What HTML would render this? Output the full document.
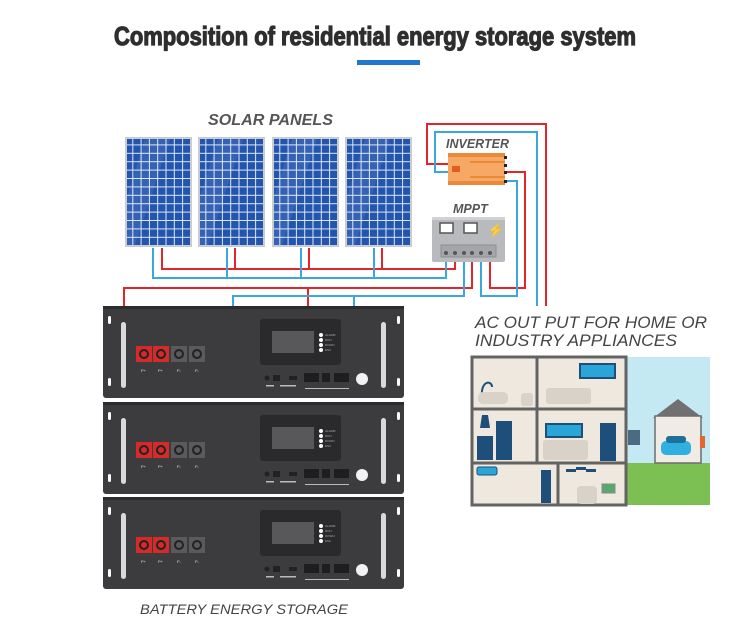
<!DOCTYPE html>
<html><head><meta charset="utf-8"><style>
html,body{margin:0;padding:0;background:#fff;}
svg{display:block;}
</style></head><body>
<svg width="750" height="633" viewBox="0 0 750 633" xmlns="http://www.w3.org/2000/svg" font-family="Liberation Sans, sans-serif">
<defs>
<pattern id="cells" x="0" y="0" width="8.3" height="8.4" patternUnits="userSpaceOnUse">
<rect width="8.3" height="8.4" fill="#2f5fb0"/>
<rect x="0" y="0" width="7.3" height="7.4" fill="#2455ad"/>
<line x1="7.8" y1="0" x2="7.8" y2="8.4" stroke="#dbe7f7" stroke-width="1"/>
<line x1="0" y1="7.9" x2="8.3" y2="7.9" stroke="#dbe7f7" stroke-width="1"/>
</pattern>
<g id="panel">
<rect x="0" y="0" width="67" height="110" fill="#c9cdd2"/>
<rect x="2" y="2" width="63" height="106" fill="url(#cells)"/>
<polygon points="20,2 45,2 10,108 2,108 2,60" fill="#ffffff" opacity="0.08"/>
</g>
<g id="batt">
<rect x="103" y="0" width="301" height="92" rx="3" fill="#3c3c3e"/>
<rect x="103" y="0" width="301" height="3" fill="#2c2c2e"/>
<rect x="108" y="10" width="3" height="8" rx="1.5" fill="#fff"/>
<rect x="108" y="72" width="3" height="8" rx="1.5" fill="#fff"/>
<rect x="397" y="10" width="3" height="8" rx="1.5" fill="#fff"/>
<rect x="397" y="72" width="3" height="8" rx="1.5" fill="#fff"/>
<rect x="121" y="16" width="5" height="66" rx="2.5" fill="#d9d9d9"/>
<rect x="381" y="16" width="5" height="66" rx="2.5" fill="#d9d9d9"/>
<rect x="136" y="40" width="16" height="16" fill="#d42a2a"/>
<rect x="153" y="40" width="16" height="16" fill="#d42a2a"/>
<rect x="171" y="40" width="16" height="16" fill="#5a5a5c"/>
<rect x="189" y="40" width="16" height="16" fill="#5a5a5c"/>
<circle cx="144" cy="48" r="4" fill="none" stroke="#222" stroke-width="2"/>
<circle cx="161" cy="48" r="4" fill="none" stroke="#222" stroke-width="2"/>
<circle cx="179" cy="48" r="4" fill="none" stroke="#222" stroke-width="2"/>
<circle cx="197" cy="48" r="4" fill="none" stroke="#222" stroke-width="2"/>
<g fill="#ddd" font-size="4"><text x="141" y="66">P+</text><text x="158" y="66">P+</text><text x="177" y="66">P-</text><text x="195" y="66">P-</text></g>
<rect x="260" y="13" width="81" height="46" rx="3" fill="#2a2a2c"/>
<rect x="272" y="25" width="42" height="22" fill="#58585a"/>
<g fill="#fff"><circle cx="321" cy="29" r="2"/><circle cx="321" cy="34" r="2"/><circle cx="321" cy="39" r="2"/><circle cx="321" cy="44" r="2"/></g>
<g fill="#aaa" font-size="3"><text x="325" y="30">ALARM</text><text x="325" y="35">RUN</text><text x="325" y="40">DOWN</text><text x="325" y="45">ESC</text></g>
<circle cx="267" cy="72" r="2.5" fill="#222"/>
<rect x="273" y="69" width="7" height="6" fill="#222"/>
<rect x="289" y="70" width="8" height="4" fill="#222"/>
<rect x="304" y="67" width="15" height="9" fill="#1e1e20"/>
<rect x="322" y="67" width="8" height="9" fill="#1e1e20"/>
<rect x="334" y="67" width="15" height="9" fill="#1e1e20"/>
<circle cx="362" cy="73" r="6" fill="#f2f2f2"/>
<g fill="#bbb"><rect x="266" y="79" width="8" height="1.5"/><rect x="280" y="79" width="16" height="1.5"/><rect x="305" y="82" width="44" height="1"/></g>
</g>
</defs>

<text x="375" y="45" text-anchor="middle" font-size="26" font-weight="bold" fill="#2e2e2e" stroke="#2e2e2e" stroke-width="1.2" textLength="522" lengthAdjust="spacingAndGlyphs">Composition of residential energy storage system</text>
<rect x="357" y="60" width="63" height="5" fill="#2177c9"/>

<text x="208" y="125" font-size="15.5" font-weight="bold" font-style="italic" fill="#555" textLength="125" lengthAdjust="spacingAndGlyphs">SOLAR PANELS</text>
<use href="#panel" x="125" y="137"/>
<use href="#panel" x="198" y="137"/>
<use href="#panel" x="272" y="137"/>
<use href="#panel" x="345" y="137"/>

<g fill="none" stroke-width="2">
<path d="M448,164 H427 V124 H546 V306" stroke="#e0262b"/>
<path d="M448,172 H435 V132 H537 V306" stroke="#3aa8dc"/>
<path d="M505,172 H525 V288 H490 V253" stroke="#e0262b"/>
<path d="M505,181 H517 V296 H481 V253" stroke="#3aa8dc"/>
<path d="M162,248 V269 H455 V253 M235,248 V269 M309,248 V269 M382,248 V269" stroke="#e0262b"/>
<path d="M153,248 V278 H446 V253 M227,248 V278 M301,248 V278 M374,248 V278" stroke="#3aa8dc"/>
<path d="M124,306 V288 H472 V253 M308,288 V306" stroke="#e0262b"/>
<path d="M233,306 V296 H464 V253 M354,296 V306" stroke="#3aa8dc"/>
</g>

<text x="446" y="148" font-size="12.5" font-weight="bold" font-style="italic" fill="#555">INVERTER</text>
<rect x="448" y="153" width="57" height="32" fill="#f6a864"/>
<rect x="448" y="153" width="57" height="4" fill="#e98a3a"/>
<rect x="470" y="161" width="35" height="2" fill="#e98a3a"/>
<rect x="470" y="176" width="35" height="2" fill="#e98a3a"/>
<rect x="448" y="181" width="57" height="4" fill="#e98a3a"/>
<rect x="452" y="166" width="8" height="6" fill="#e25d1f"/>
<g fill="#222"><rect x="504" y="156" width="3" height="3"/><rect x="504" y="164" width="3" height="3"/><rect x="504" y="171" width="3" height="3"/><rect x="504" y="180" width="3" height="3"/></g>

<text x="453" y="213" font-size="12.5" font-weight="bold" font-style="italic" fill="#555">MPPT</text>
<rect x="432" y="217" width="73" height="45" rx="2" fill="#b8babd"/>
<rect x="432" y="217" width="73" height="3" fill="#d0d2d4"/>
<rect x="440" y="223" width="13" height="10" fill="#fff" stroke="#555" stroke-width="1.5"/>
<rect x="464" y="223" width="13" height="10" fill="#fff" stroke="#555" stroke-width="1.5"/>
<text x="487" y="235" font-size="14" fill="#f5c400">⚡</text>
<rect x="441" y="245" width="55" height="12" fill="#a4a6a9" stroke="#8d8f92"/>
<g fill="#555"><circle cx="446" cy="253" r="2"/><circle cx="455" cy="253" r="2"/><circle cx="464" cy="253" r="2"/><circle cx="472" cy="253" r="2"/><circle cx="481" cy="253" r="2"/><circle cx="490" cy="253" r="2"/></g>

<use href="#batt" x="0" y="306"/>
<use href="#batt" x="0" y="402"/>
<use href="#batt" x="0" y="497"/>

<text x="140" y="614" font-size="13.5" font-style="italic" fill="#444" textLength="208" lengthAdjust="spacingAndGlyphs">BATTERY ENERGY STORAGE</text>

<text x="475" y="328" font-size="17" font-style="italic" fill="#444" textLength="232" lengthAdjust="spacingAndGlyphs">AC OUT PUT FOR HOME OR</text>
<text x="475" y="346" font-size="17" font-style="italic" fill="#444" textLength="202" lengthAdjust="spacingAndGlyphs">INDUSTRY APPLIANCES</text>

<!-- house scene -->
<rect x="626" y="357" width="84" height="106" fill="#c4e9f3"/>
<rect x="626" y="463" width="84" height="42" fill="#7cbf52"/>
<polygon points="653,418 678,399 703,418" fill="#707070"/>
<rect x="655" y="416" width="46" height="47" fill="#f0ebe4" stroke="#6d6d6d" stroke-width="1.5"/>
<rect x="661" y="441" width="30" height="14" rx="5" fill="#2fb0e0"/>
<rect x="666" y="436" width="20" height="7" rx="3" fill="#1f6f98"/>
<rect x="700" y="436" width="5" height="12" fill="#e4662c"/>
<rect x="628" y="430" width="12" height="15" fill="#4b6b82"/>
<rect x="472" y="357" width="154" height="148" fill="#efe8df" stroke="#636363" stroke-width="3"/>
<line x1="472" y1="409" x2="626" y2="409" stroke="#636363" stroke-width="3"/>
<line x1="472" y1="463" x2="626" y2="463" stroke="#636363" stroke-width="3"/>
<line x1="537" y1="357" x2="537" y2="463" stroke="#636363" stroke-width="3"/>
<line x1="558" y1="463" x2="558" y2="505" stroke="#636363" stroke-width="3"/>
<rect x="580" y="364" width="35" height="14" fill="#2aa5d8" stroke="#1d4f7a" stroke-width="2"/>
<rect x="546" y="388" width="45" height="16" rx="3" fill="#d8d2c9"/>
<rect x="546" y="424" width="36" height="13" fill="#2aa5d8" stroke="#1d4f7a" stroke-width="2"/>
<rect x="543" y="440" width="45" height="20" rx="3" fill="#d8d2c9"/>
<rect x="600" y="423" width="16" height="38" fill="#1d4f7a"/>
<rect x="496" y="421" width="16" height="39" fill="#1d4f7a"/>
<rect x="477" y="436" width="16" height="24" fill="#1d4f7a"/>
<polygon points="480,428 490,428 488,415 482,415" fill="#1d4f7a"/>
<path d="M482,398 C480,380 492,380 492,387" fill="none" stroke="#1d4f7a" stroke-width="2"/>
<rect x="478" y="392" width="30" height="12" rx="5" fill="#d8d2c9"/>
<rect x="521" y="393" width="12" height="13" rx="3" fill="#d8d2c9"/>
<rect x="566" y="469" width="10" height="3" fill="#1d4f7a"/>
<rect x="576" y="467" width="10" height="3" fill="#1d4f7a"/>
<rect x="586" y="469" width="10" height="3" fill="#1d4f7a"/>
<rect x="577" y="486" width="20" height="18" rx="4" fill="#d8d2c9"/>
<rect x="602" y="484" width="13" height="9" fill="#5aa76b" stroke="#888"/>
<rect x="477" y="467" width="20" height="8" rx="2" fill="#2aa5d8" stroke="#1d4f7a"/>
<rect x="541" y="470" width="10" height="33" fill="#1d4f7a"/>
</svg>
</body></html>
